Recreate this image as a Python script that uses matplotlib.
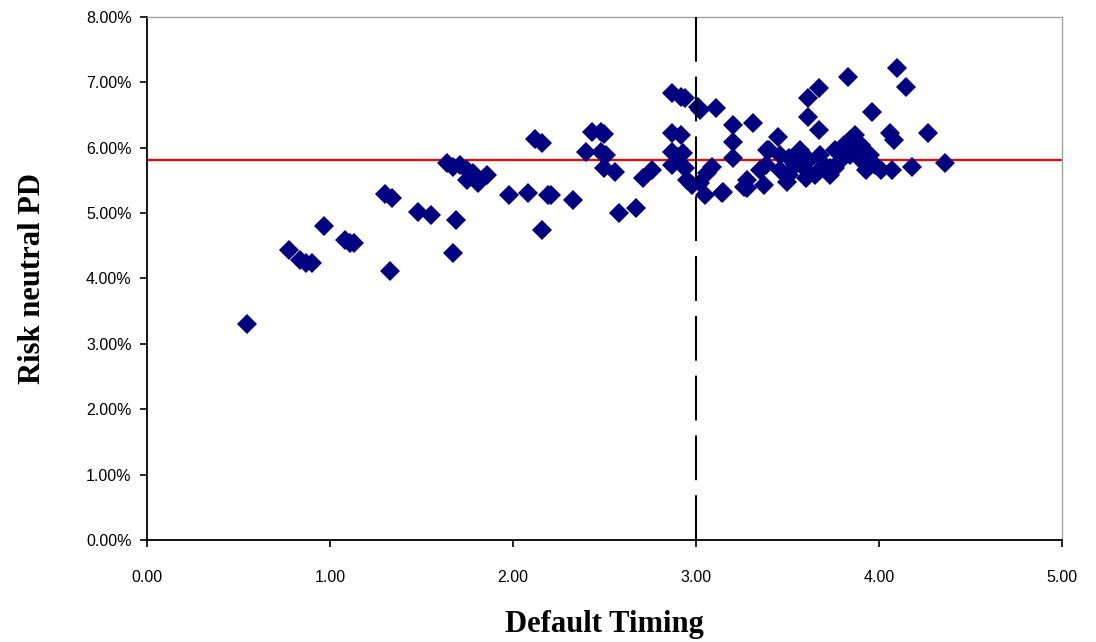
import matplotlib
matplotlib.use("Agg")
import matplotlib.pyplot as plt
from matplotlib.ticker import FuncFormatter

# Default timing (years) and risk-neutral probability of default (%)
timing = [
    0.545, 0.776, 0.836, 0.869, 0.90, 0.969, 1.08, 1.11, 1.13, 1.33, 1.30, 1.34,
    1.48, 1.55, 1.69, 1.67, 1.64, 1.67, 1.71, 1.75, 1.78, 1.75, 1.81, 1.86,
    1.98, 2.08, 2.19, 2.21, 2.33, 2.16, 2.12, 2.16, 2.43, 2.48, 2.50, 2.40,
    2.48, 2.51, 2.50, 2.56, 2.58, 2.67, 2.71, 2.76, 2.87, 2.92, 2.94, 3.01,
    3.02, 3.11, 2.87, 2.92, 2.87, 2.90, 2.93, 2.87, 2.94, 2.95, 2.98, 3.02,
    3.05, 3.06, 3.09, 3.15, 3.20, 3.20, 3.20, 3.26, 3.31, 3.14, 3.28, 3.28,
    3.37, 3.39, 3.45, 3.50, 3.61, 3.67, 3.61, 3.67, 3.83, 3.96, 4.06, 4.08,
    4.10, 4.15, 4.27, 4.36, 4.18, 4.07, 4.01, 3.93,
    3.35, 3.38, 3.40, 3.46, 3.51, 3.54, 3.57, 3.60, 3.62, 3.65, 3.68, 3.70,
    3.73, 3.76, 3.79, 3.46, 3.51, 3.60, 3.68, 3.76, 3.81, 3.84, 3.87, 3.90,
    3.92, 3.95, 3.98, 3.84, 3.90, 3.79, 3.87, 3.73,
]
pd_pct = [
    3.30, 4.43, 4.28, 4.24, 4.24, 4.81, 4.59, 4.54, 4.54, 4.11, 5.29, 5.23,
    5.02, 4.97, 4.89, 4.39, 5.76, 5.70, 5.73, 5.66, 5.61, 5.50, 5.46, 5.58,
    5.27, 5.31, 5.27, 5.27, 5.20, 4.74, 6.13, 6.07, 6.24, 6.24, 6.21, 5.93,
    5.93, 5.89, 5.69, 5.63, 5.00, 5.08, 5.53, 5.66, 6.83, 6.77, 6.76, 6.62,
    6.57, 6.61, 6.22, 6.19, 5.93, 5.86, 5.92, 5.73, 5.69, 5.50, 5.43, 5.46,
    5.27, 5.61, 5.70, 5.32, 6.35, 6.09, 5.84, 5.40, 6.38, 5.31, 5.50, 5.38,
    5.43, 5.96, 6.16, 5.47, 6.76, 6.91, 6.47, 6.27, 7.08, 6.54, 6.22, 6.12,
    7.22, 6.93, 6.22, 5.76, 5.70, 5.66, 5.66, 5.66,
    5.66, 5.73, 5.96, 5.89, 5.84, 5.73, 5.96, 5.66, 5.81, 5.58, 5.89, 5.73,
    5.58, 5.96, 5.81, 5.66, 5.58, 5.54, 5.66, 5.69, 6.04, 6.12, 6.19, 6.04,
    5.96, 5.89, 5.73, 5.89, 5.81, 5.96, 6.04, 5.69,
]
mean_pd = 5.82
cutoff_timing = 3.0

fig = plt.figure(figsize=(10.96, 6.42), dpi=100)
ax = fig.add_axes([0.134, 0.159, 0.835, 0.8145])

ax.plot(timing, [v / 100 for v in pd_pct], linestyle="none", marker="D",
        markersize=10.5, color="#000080", markeredgewidth=0, zorder=3)
ax.axhline(mean_pd / 100, color="#ff0000", linewidth=1.6, zorder=2)
ax.axvline(cutoff_timing, color="black", linewidth=1.5,
           dashes=(21.5, 7.2), dash_capstyle="butt", zorder=4)

ax.set_xlim(0, 5)
ax.set_ylim(0, 0.08)
ax.set_xticks([0, 1, 2, 3, 4, 5])
ax.set_yticks([i / 100 for i in range(9)])
ax.xaxis.set_major_formatter(FuncFormatter(lambda v, _: f"{v:.2f}"))
ax.yaxis.set_major_formatter(FuncFormatter(lambda v, _: f"{v * 100:.2f}%"))

for lbl in ax.get_xticklabels() + ax.get_yticklabels():
    lbl.set_fontfamily("Liberation Sans")
    lbl.set_fontsize(11.5)
ax.tick_params(axis="both", direction="out", length=5, width=1.2, color="black")
ax.tick_params(axis="x", pad=17)
ax.tick_params(axis="y", pad=6)

for side in ("left", "bottom"):
    ax.spines[side].set_color("black")
    ax.spines[side].set_linewidth(1.3)
for side in ("top", "right"):
    ax.spines[side].set_color("#a0a0a0")
    ax.spines[side].set_linewidth(1.0)

label_font = dict(family="Liberation Serif", size=22, weight="bold")
ax.set_xlabel("Default Timing", labelpad=18, **label_font)
ax.set_ylabel("Risk neutral PD", labelpad=28, **label_font)

fig.savefig("out.png", dpi=100)
